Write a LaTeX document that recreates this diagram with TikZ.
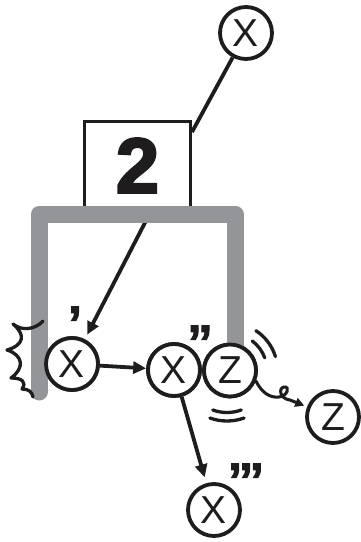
\documentclass[tikz,border=0pt]{standalone}
\usepackage{fontspec}
\setmainfont{Liberation Sans}
\newfontface\heavyfont[FakeBold=3]{Liberation Sans Bold}
\newfontface\primefont[FakeBold=2]{Liberation Sans Bold}
\usetikzlibrary{arrows.meta}
\definecolor{framegray}{RGB}{148,149,153}
\definecolor{ink}{RGB}{30,28,28}
\begin{document}
\begin{tikzpicture}[x=1pt,y=-1pt,
  lbl/.style={circle,draw=ink,line width=3.8pt,fill=white,minimum size=52pt,inner sep=0pt,text=ink,font=\fontsize{39}{39}\selectfont},
  conn/.style={draw=ink,line width=3.8pt},
  arr/.style={conn,-{Triangle[length=13pt,width=12pt]}},
  smallarr/.style={draw=ink,line width=3pt,line cap=round,-{Triangle[length=9pt,width=9pt]}},
  primes/.style={anchor=base,inner sep=0pt,text=ink,font=\primefont\fontsize{50}{50}\selectfont},
  wave/.style={draw=ink,line width=3.3pt,line cap=round},
  frame/.style={draw=framegray,line width=17pt,line join=round,line cap=round}
]
\useasboundingbox (0,0) rectangle (361,542);

% box with 2
\node[draw=ink,line width=3.6pt,minimum width=106pt,minimum height=88pt,inner sep=0pt,text=ink] (box) at (137.5,165.5) {\heavyfont\fontsize{78}{78}\selectfont 2};

% circles (positions)
\node[lbl] (tx) at (246,33) {X};
\coordinate (boxhit) at (192,132);
\coordinate (barstart) at (150,213);

\node[lbl] (xp) at (72,364) {X};
\node[lbl] (xpp) at (174,370) {X};
\node[lbl] (z) at (230,370.5) {Z};
\node[lbl] (z2) at (333,417) {Z};
\node[lbl] (xppp) at (214,510) {X};

% connectors behind the frame
\draw[conn] (tx) -- (boxhit);
\draw[arr,shorten >=5pt] (barstart) -- (xp);

% gray frame
\draw[frame] (39,392) -- (39,214) -- (235,214) -- (235,352);

% redraw circles on top of frame
\node[lbl] at (xp) {X};
\node[lbl] at (xpp) {X};
\node[lbl] at (z) {Z};

% arrows between circles
\draw[arr] (xp) -- (xpp);
\draw[arr,shorten >=6pt] (xpp) -- (xppp);
\draw[smallarr,shorten >=3pt] (z.-22) .. controls (262,393) and (270,398) .. (279,397)
   .. controls (288,396) and (290,386) .. (284,387)
   .. controls (278,388) and (280,399) .. (290,400) -- (z2);

% primes
\node[primes] (pm1) at (75,341) {’};
\node[primes] (pm2) at (200,360) {’\kern-3pt’};
\node[primes] (pm3) at (246,498) {’\kern-3pt’\kern-3pt’};

% waves around Z
\draw[wave] ([shift={(-53:37)}]z.center) arc[start angle=-53,end angle=-20,radius=37];
\draw[wave] ([shift={(-57:47.5)}]z.center) arc[start angle=-57,end angle=-17,radius=47.5];
\draw[wave] ([shift={(70:41.5)}]227,371) arc[start angle=70,end angle=110,radius=41.5];
\draw[wave] ([shift={(70:50)}]227,371) arc[start angle=70,end angle=110,radius=50];

% burst left of X'
\draw[wave,line join=round] (43,321) .. controls (35,330) and (21,331) .. (13,324)
  .. controls (26,335) and (24,345) .. (7,350)
  .. controls (23,355) and (25,368) .. (11,378)
  .. controls (22,378) and (27,382) .. (22,389)
  .. controls (29,389) and (32,392) .. (33,397);
\end{tikzpicture}
\end{document}
